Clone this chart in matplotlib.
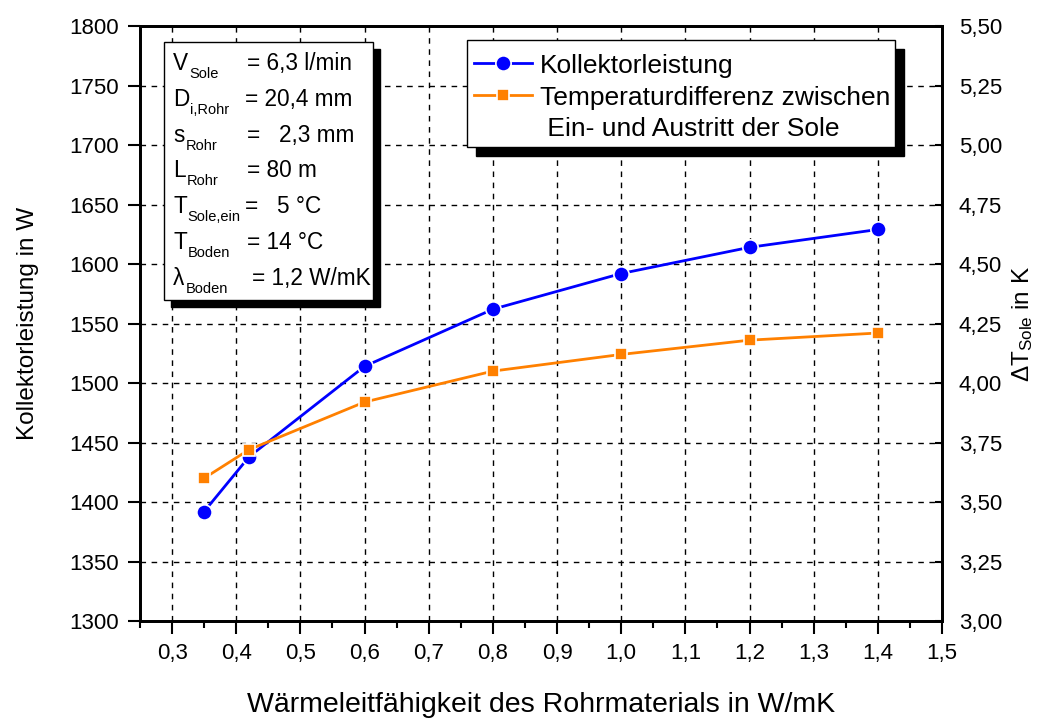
import matplotlib.pyplot as plt
from matplotlib.patches import Rectangle
from matplotlib.lines import Line2D
from matplotlib.ticker import MultipleLocator, FuncFormatter

plt.rcParams['font.family'] = ['Liberation Sans', 'DejaVu Sans']
plt.rcParams['mathtext.fontset'] = 'custom'
plt.rcParams['mathtext.rm'] = 'Liberation Sans'
plt.rcParams['mathtext.it'] = 'Liberation Sans'

# data
waermeleitf = [0.35, 0.42, 0.6, 0.8, 1.0, 1.2, 1.4]
leistung = [1392, 1438, 1514, 1562, 1592, 1614, 1629]
delta_t = [3.60, 3.72, 3.92, 4.05, 4.12, 4.18, 4.21]

info_symbols = ['V', 'D', 's', 'L', 'T', 'T', 'λ']
info_subs = ['Sole', 'i,Rohr', 'Rohr', 'Rohr', 'Sole,ein', 'Boden', 'Boden']
info_values = ['= 6,3 l/min', '= 20,4 mm', '=   2,3 mm', '= 80 m',
               '=   5 °C', '= 14 °C', '= 1,2 W/mK']

W, H = 1060, 720
fig = plt.figure(figsize=(W / 100, H / 100), dpi=100)
ax = fig.add_axes([140 / W, 1 - 621 / H, (942 - 140) / W, (621 - 26) / H])
ax2 = ax.twinx()


def komma(v, nd):
    return ('{:.%df}' % nd).format(v).replace('.', ',')


def shadow_box(target, x0, y0, x1, y1, off, z):
    # white box with black edge and a solid black shadow, pixel coords from top-left
    target.add_artist(Rectangle(((x0 + off) / W, 1 - (y1 + off) / H), (x1 - x0) / W,
                                (y1 - y0) / H, transform=fig.transFigure,
                                facecolor='black', edgecolor='black', zorder=z))
    target.add_artist(Rectangle((x0 / W, 1 - y1 / H), (x1 - x0) / W,
                                (y1 - y0) / H, transform=fig.transFigure,
                                facecolor='white', edgecolor='black', lw=1,
                                zorder=z + 0.1))


ax.plot(waermeleitf, leistung, color='#0000ff', lw=2, marker='o', ms=11,
        mec='white', mew=1.2, zorder=3)
ax2.plot(waermeleitf, delta_t, color='#ff8000', lw=2, marker='s', ms=9,
         mec='white', mew=1.2, zorder=3)

ax.set_xlim(0.25, 1.5)
ax.set_ylim(1300, 1800)
ax2.set_ylim(3.0, 5.5)

ax.xaxis.set_major_locator(MultipleLocator(0.1))
ax.xaxis.set_minor_locator(MultipleLocator(0.05))
ax.yaxis.set_major_locator(MultipleLocator(50))
ax2.yaxis.set_major_locator(MultipleLocator(0.25))
ax.xaxis.set_major_formatter(FuncFormatter(lambda v, p: komma(v, 1)))
ax2.yaxis.set_major_formatter(FuncFormatter(lambda v, p: komma(v, 2)))

ax.grid(True, which='major', color='black', lw=1, linestyle=(0, (4, 4)))
ax.set_axisbelow(True)

ax.tick_params(axis='x', which='major', direction='out', length=9, width=1.5,
               labelsize=16, pad=7)
ax.tick_params(axis='x', which='minor', direction='out', length=5, width=1.5)
ax.tick_params(axis='y', direction='out', length=9, width=1.5, labelsize=16,
               pad=6)
ax2.tick_params(axis='y', direction='in', length=5, width=1.5, labelsize=16,
                pad=12)
for a in (ax, ax2):
    for s in a.spines.values():
        s.set_linewidth(2)

ax.set_xlabel('Wärmeleitfähigkeit des Rohrmaterials in W/mK', fontsize=20.5,
              labelpad=20)
ax.set_ylabel('Kollektorleistung in W', fontsize=17.5, labelpad=22)
ax2.set_ylabel(r'ΔT$_{\mathregular{Sole}}$ in K', fontsize=17.5, labelpad=6)

# legend: frame drawn by hand, second label split over two rows
shadow_box(ax2, 467, 40, 895, 147, 9, 4)
h1 = Line2D([], [], color='#0000ff', lw=2, marker='o', ms=11, mec='white', mew=1.2)
h2 = Line2D([], [], color='#ff8000', lw=2, marker='s', ms=9, mec='white', mew=1.2)
h3 = Line2D([], [], color='none')
leg = ax2.legend([h1, h2, h3],
                 ['Kollektorleistung', 'Temperaturdifferenz zwischen',
                  ' Ein- und Austritt der Sole'],
                 loc='upper left', bbox_to_anchor=(467 / W, 1 - 47 / H),
                 bbox_transform=fig.transFigure, borderaxespad=0,
                 fontsize=19, handlelength=2.2, handletextpad=0.3,
                 labelspacing=0.3, frameon=False, borderpad=0.25)
leg.set_zorder(5)

# parameter box with shadow
shadow_box(fig, 164, 42, 373, 300, 7, 5)
renderer = fig.canvas.get_renderer()
for i, (sym, sub, val) in enumerate(zip(info_symbols, info_subs, info_values)):
    base = 70 + i * 35.8
    t = fig.text(173 / W, 1 - base / H, sym, fontsize=16.3, va='baseline',
                 zorder=7)
    ext = t.get_window_extent(renderer)
    fig.text((ext.x1 + 1) / W, 1 - (base + 8) / H, sub, fontsize=10.5,
             va='baseline', zorder=7)
    xv = 252 if i == 6 else (245 if i in (1, 4) else 247)
    fig.text(xv / W, 1 - base / H, val, fontsize=16.3, va='baseline', zorder=7)

fig.savefig('out.png', dpi=100)
